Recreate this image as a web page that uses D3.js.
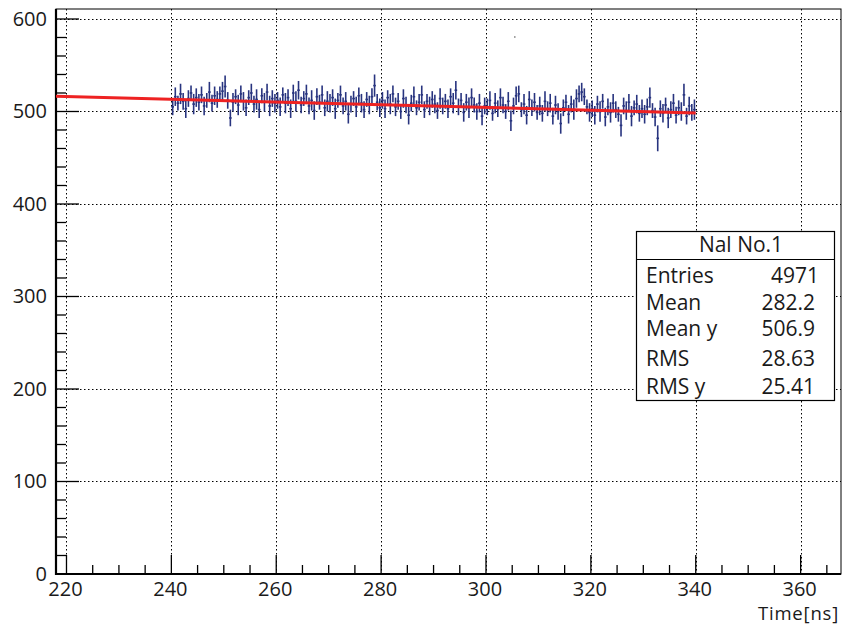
<!DOCTYPE html>
<html>
<head>
<meta charset="utf-8">
<script src="https://cdn.jsdelivr.net/npm/d3@7"></script>
<style>
  html, body { margin: 0; padding: 0; background: #fff; }
  svg { display: block; font-family: "Open Sans", "Noto Sans", sans-serif; }
</style>
</head>
<body>
<svg id="chart" width="842" height="626"></svg>
<script>
// ---- data ----
const xDomain = [218, 367.7];
const yDomain = [0, 610.8];
const xTickValues = [220, 240, 260, 280, 300, 320, 340, 360];
const yTickValues = [0, 100, 200, 300, 400, 500, 600];
const binStart = 240;
const binWidth = 0.5;
const profileValues = [
  505, 516, 509, 519, 511, 503, 514, 520, 508, 515, 510, 518, 506, 512, 521, 509, 517, 513, 519, 522,
  527, 512, 493, 510, 516, 507, 519, 511, 504, 515, 520, 508, 513, 502, 517, 510, 521, 506, 514, 509,
  512, 505, 518, 509, 515, 503, 520, 511, 523, 507, 514, 519, 506, 512, 501, 516, 510, 518, 504, 511,
  509, 515, 503, 512, 518, 506, 511, 497, 508, 514, 505, 517, 509, 502, 513, 507, 516, 528, 510, 504,
  512, 503, 515, 508, 519, 505, 511, 500, 514, 507, 496, 509, 516, 504, 510, 518, 502, 511, 506, 513,
  508, 501, 514, 506, 511, 503, 516, 509, 523, 505, 512, 499, 510, 504, 515, 507, 500, 509, 495, 506,
  505, 512, 498, 509, 503, 515, 507, 500, 511, 490, 506, 517, 519, 502, 508, 496, 513, 504, 510, 499,
  506, 498, 511, 503, 509, 495, 507, 500, 487, 504, 510, 497, 508, 502, 514, 519, 521, 516, 505, 499,
  503, 496, 508, 500, 511, 494, 505, 499, 509, 502, 497, 485, 506, 501, 510, 495, 504, 508, 498, 503,
  497, 505, 515, 501, 494, 471, 503, 498, 507, 493, 502, 509, 496, 504, 500, 518, 495, 506, 499, 502
];
const profileErrors = [
  9, 10, 8, 11, 9, 10, 9, 8, 11, 10, 9, 9, 10, 8, 11, 9, 10, 9, 8, 10,
  12, 9, 9, 10, 8, 11, 9, 10, 9, 8, 10, 9, 11, 9, 8, 10, 9, 11, 9, 10,
  9, 10, 8, 11, 9, 10, 9, 11, 10, 9, 8, 10, 9, 11, 10, 9, 8, 10, 9, 11,
  10, 9, 11, 8, 10, 9, 10, 10, 9, 8, 11, 9, 10, 9, 8, 10, 9, 12, 9, 10,
  9, 10, 8, 11, 9, 10, 9, 8, 10, 9, 10, 9, 11, 8, 9, 10, 9, 8, 10, 9,
  10, 9, 11, 9, 8, 10, 9, 11, 10, 9, 8, 10, 9, 11, 10, 8, 9, 10, 10, 9,
  9, 10, 8, 11, 9, 10, 9, 8, 10, 11, 9, 10, 9, 8, 11, 10, 9, 9, 10, 8,
  10, 9, 11, 8, 10, 9, 10, 9, 11, 9, 8, 10, 9, 11, 10, 9, 10, 9, 8, 10,
  9, 10, 9, 11, 8, 10, 9, 11, 10, 9, 8, 12, 9, 10, 9, 11, 8, 10, 9, 10,
  10, 9, 11, 8, 10, 14, 9, 10, 8, 11, 9, 10, 9, 8, 10, 12, 9, 10, 9, 11
];
const strayPoints = [{ x: 305.5, y: 580.5 }];
const fitLine = [{ x: 218, y: 516.5 }, { x: 340, y: 498.5 }];
const statTitle = "Nal No.1";
const statLabels = ["Entries", "Mean", "Mean y", "RMS", "RMS y"];
const statValues = ["4971", "282.2", "506.9", "28.63", "25.41"];
const xAxisTitle = "Time[ns]";

// ---- layout ----
const svg = d3.select("#chart");
const L = 56, R = 841, T = 9, B = 574;
const x = d3.scaleLinear().domain(xDomain).range([L, R]);
const y = d3.scaleLinear().domain(yDomain).range([B, T]);

// grid
const grid = svg.append("g").attr("stroke", "#000").attr("stroke-width", 1)
  .attr("stroke-dasharray", "1.5,2.5");
grid.selectAll("line.gx").data(xTickValues).join("line")
  .attr("x1", d => Math.round(x(d)) + 0.5).attr("x2", d => Math.round(x(d)) + 0.5)
  .attr("y1", T).attr("y2", B);
grid.selectAll("line.gy").data(yTickValues.filter(d => d > 0)).join("line")
  .attr("y1", d => Math.round(y(d)) + 0.5).attr("y2", d => Math.round(y(d)) + 0.5)
  .attr("x1", L).attr("x2", R);

// frame
svg.append("rect").attr("x", L).attr("y", T).attr("width", R - L).attr("height", B - T)
  .attr("fill", "none").attr("stroke", "#000").attr("stroke-width", 1);

// axes with ticks
const xMinor = d3.range(220, 368, 5).filter(v => v <= xDomain[1]);
const yMinor = d3.range(0, 611, 20);
const ax = svg.append("g").attr("stroke", "#000");
ax.selectAll("line.xt").data(xMinor).join("line")
  .attr("x1", d => x(d)).attr("x2", d => x(d))
  .attr("y1", B).attr("y2", d => B - (d % 20 === 0 ? 19 : 9))
  .attr("stroke-width", 1.3);
ax.selectAll("line.yt").data(yMinor).join("line")
  .attr("y1", d => y(d)).attr("y2", d => y(d))
  .attr("x1", L).attr("x2", d => L + (d % 100 === 0 ? 23 : 10))
  .attr("stroke-width", 1.3);
ax.append("line").attr("x1", L).attr("x2", L).attr("y1", T).attr("y2", B + 1).attr("stroke-width", 2.2);
ax.append("line").attr("x1", L - 1).attr("x2", R).attr("y1", B).attr("y2", B).attr("stroke-width", 2.2);

// tick labels
svg.append("g").selectAll("text").data(xTickValues).join("text")
  .attr("x", d => x(d) - 1).attr("y", 596).attr("text-anchor", "middle")
  .attr("font-size", 20).attr("fill", "#1a1a1a").text(d => d);
svg.append("g").selectAll("text").data(yTickValues).join("text")
  .attr("x", 47).attr("y", d => y(d) + 7).attr("text-anchor", "end")
  .attr("font-size", 20).attr("fill", "#1a1a1a").text(d => d);
svg.append("text").attr("x", 839).attr("y", 620).attr("text-anchor", "end")
  .attr("font-size", 18.5).attr("fill", "#1a1a1a").attr("letter-spacing", 0.8).text(xAxisTitle);

// profile with error bars
const bins = profileValues.map((v, i) => ({
  x0: binStart + i * binWidth, x1: binStart + (i + 1) * binWidth, v, e: profileErrors[i]
}));
const pg = svg.append("g").attr("stroke", "#28347f").attr("stroke-width", 1.6).attr("fill", "none");
pg.selectAll("line.eb").data(bins).join("line")
  .attr("x1", d => x((d.x0 + d.x1) / 2)).attr("x2", d => x((d.x0 + d.x1) / 2))
  .attr("y1", d => y(d.v - d.e)).attr("y2", d => y(d.v + d.e));
pg.selectAll("line.hb").data(bins).join("line")
  .attr("x1", d => x(d.x0)).attr("x2", d => x(d.x1))
  .attr("y1", d => y(d.v)).attr("y2", d => y(d.v));
svg.append("g").selectAll("circle").data(strayPoints).join("circle")
  .attr("cx", d => x(d.x)).attr("cy", d => y(d.y)).attr("r", 0.8).attr("fill", "#555");

// fit line
svg.append("path").datum(fitLine)
  .attr("d", d3.line().x(d => x(d.x)).y(d => y(d.y)))
  .attr("fill", "none").attr("stroke", "#ee2222").attr("stroke-width", 3);

// stat box
const sb = { x: 636, y: 231, w: 198, h: 169, sep: 259 };
const g = svg.append("g");
g.append("rect").attr("x", sb.x + 0.5).attr("y", sb.y + 0.5).attr("width", sb.w).attr("height", sb.h)
  .attr("fill", "#fff").attr("stroke", "#000").attr("stroke-width", 1.2);
g.append("line").attr("x1", sb.x).attr("x2", sb.x + sb.w).attr("y1", sb.sep + 0.5).attr("y2", sb.sep + 0.5)
  .attr("stroke", "#000").attr("stroke-width", 1.2);
g.append("text").attr("x", 741).attr("y", 252).attr("text-anchor", "middle")
  .attr("font-size", 21).attr("fill", "#1a1a1a").text(statTitle);
const rowY = [283, 310, 336, 366, 394];
g.selectAll("text.lab").data(statLabels).join("text")
  .attr("x", 646).attr("y", (d, i) => rowY[i]).attr("font-size", 21).attr("fill", "#1a1a1a").text(d => d);
g.selectAll("text.val").data(statValues).join("text")
  .attr("x", (d, i) => i === 0 ? 819 : 815).attr("y", (d, i) => rowY[i]).attr("text-anchor", "end")
  .attr("font-size", 21).attr("fill", "#1a1a1a").text(d => d);
</script>
</body>
</html>
